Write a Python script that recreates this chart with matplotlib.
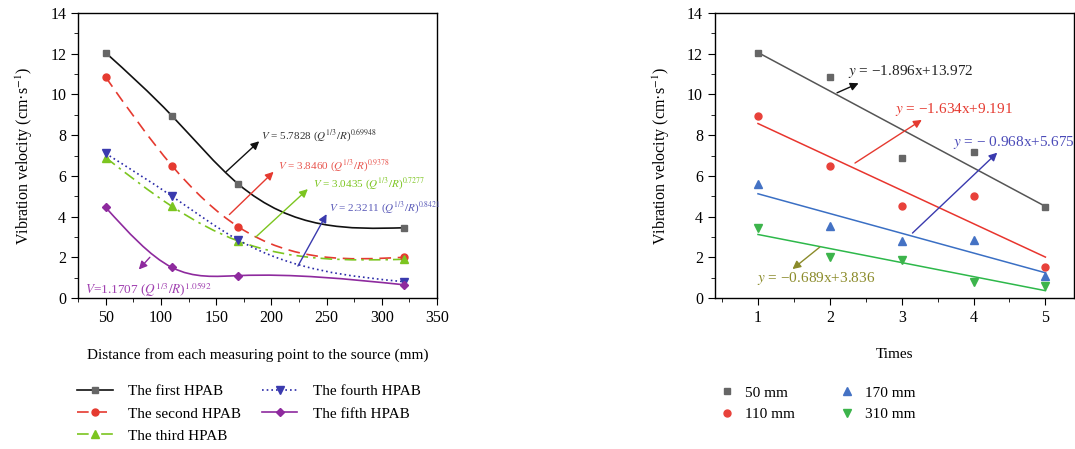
import matplotlib
matplotlib.use("Agg")
import matplotlib.pyplot as plt
import numpy as np
from matplotlib.path import Path
from matplotlib.patches import PathPatch
from matplotlib.lines import Line2D
from matplotlib.ticker import MultipleLocator

plt.rcParams['font.family'] = ['Liberation Serif', 'DejaVu Serif']
plt.rcParams['mathtext.fontset'] = 'stix'

# left panel data
distance = [50, 110, 170, 320]
hpab_names = ['The first HPAB', 'The second HPAB', 'The third HPAB',
              'The fourth HPAB', 'The fifth HPAB']
hpab1 = [12.05, 8.95, 5.6, 3.45]
hpab2 = [10.85, 6.5, 3.5, 2.0]
hpab3 = [6.9, 4.5, 2.8, 1.9]
hpab4 = [7.1, 5.0, 2.85, 0.8]
hpab5 = [4.45, 1.5, 1.1, 0.65]

# right panel data
times = [1, 2, 3, 4, 5]
group_names = ['50 mm', '110 mm', '170 mm', '310 mm']
v50 = [12.05, 10.85, 6.9, 7.15, 4.45]
v110 = [8.95, 6.5, 4.5, 5.0, 1.5]
v170 = [5.6, 3.55, 2.8, 2.85, 1.1]
v310 = [3.45, 2.0, 1.85, 0.8, 0.6]


def spline_path(x, y):
    # natural cubic spline drawn as bezier segments through the points
    x = np.asarray(x, float)
    y = np.asarray(y, float)
    n = len(x)
    h = np.diff(x)
    A = np.zeros((n, n))
    b = np.zeros(n)
    A[0, 0] = A[-1, -1] = 1
    for i in range(1, n - 1):
        A[i, i - 1] = h[i - 1]
        A[i, i] = 2 * (h[i - 1] + h[i])
        A[i, i + 1] = h[i]
        b[i] = 6 * ((y[i + 1] - y[i]) / h[i] - (y[i] - y[i - 1]) / h[i - 1])
    M = np.linalg.solve(A, b)
    d = np.zeros(n)
    for i in range(n - 1):
        d[i] = (y[i + 1] - y[i]) / h[i] - h[i] * (2 * M[i] + M[i + 1]) / 6
    d[-1] = (y[-1] - y[-2]) / h[-1] + h[-1] * (M[-2] + 2 * M[-1]) / 6
    verts = [(x[0], y[0])]
    codes = [Path.MOVETO]
    for i in range(n - 1):
        verts += [(x[i] + h[i] / 3, y[i] + d[i] * h[i] / 3),
                  (x[i + 1] - h[i] / 3, y[i + 1] - d[i + 1] * h[i] / 3),
                  (x[i + 1], y[i + 1])]
        codes += [Path.CURVE4] * 3
    return Path(verts, codes)


fig = plt.figure(figsize=(10.75, 4.49), dpi=100)
ax1 = fig.add_axes([0.0726, 0.3363, 0.334, 0.6347])
ax2 = fig.add_axes([0.665, 0.3363, 0.3342, 0.6347])

styles = [
    (hpab1, '#111111', '#666666', 's', '-', 4.5),
    (hpab2, '#e53a30', '#e53a30', 'o', (0, (7, 4)), 5),
    (hpab3, '#7cc520', '#7cc520', '^', (0, (7, 3, 1.5, 3)), 6),
    (hpab4, '#2a2aa8', '#3a3aae', 'v', (0, (1, 1.8)), 6),
    (hpab5, '#8e2a9e', '#8e2a9e', 'D', '-', 4),
]
handles = []
for (vals, lc, mc, mk, ls, ms), name in zip(styles, hpab_names):
    ax1.add_patch(PathPatch(spline_path(distance, vals), fill=False,
                            edgecolor=lc, linestyle=ls, lw=1.2))
    ax1.plot(distance, vals, linestyle='none', marker=mk, color=mc,
             markersize=ms, zorder=3)
    handles.append(Line2D([], [], color=lc, linestyle=ls, lw=1.2,
                          marker=mk, markerfacecolor=mc, markeredgecolor=mc,
                          markersize=ms))

ax1.set_xlim(25, 350)
ax1.set_ylim(0, 14)
ax1.xaxis.set_major_locator(MultipleLocator(50))
ax1.xaxis.set_minor_locator(MultipleLocator(25))
ax1.yaxis.set_major_locator(MultipleLocator(2))
ax1.yaxis.set_minor_locator(MultipleLocator(1))
ax1.set_ylabel('Vibration velocity (cm·s$^{-1}$)', fontsize=11.5, labelpad=11)
ax1.set_xlabel('Distance from each measuring point to the source (mm)',
               fontsize=11, labelpad=16)

arrow_specs = [
    ((159, 6.2), (189, 7.7), '#111111', (191, 7.95),
     r'$V$ = 5.7828 ($Q^{1/3}/R$)$^{0.69948}$', '#333333', 8),
    ((162, 4.1), (202, 6.2), '#e53a30', (206, 6.55),
     r'$V$ = 3.8460 ($Q^{1/3}/R$)$^{0.9378}$', '#e8554e', 8),
    ((186, 3.0), (233, 5.35), '#7cc520', (238, 5.65),
     r'$V$ = 3.0435 ($Q^{1/3}/R$)$^{0.7277}$', '#7cc520', 8),
    ((224, 1.57), (250, 4.12), '#3a3aae', (252, 4.47),
     r'$V$ = 2.3211 ($Q^{1/3}/R$)$^{0.8421}$', '#5a5ab8', 8),
    ((90, 2.0), (80, 1.4), '#8e2a9e', (31, 0.42),
     r'$V$=1.1707 ($Q^{1/3}/R$)$^{1.0592}$', '#a040b0', 9.5),
]
for start, end, ac, tpos, txt, tc, fs in arrow_specs:
    ax1.annotate('', xy=end, xytext=start,
                 arrowprops=dict(arrowstyle='-|>', color=ac, lw=1.0,
                                 mutation_scale=12, shrinkA=0, shrinkB=0))
    ax1.text(tpos[0], tpos[1], txt, color=tc, fontsize=fs, va='center')

fig.legend(handles=handles, labels=hpab_names, loc='upper left',
           bbox_to_anchor=(0.072, 0.143), ncol=2, frameon=False, fontsize=11,
           handlelength=2.3, handletextpad=1.0, columnspacing=1.4,
           labelspacing=0.55, borderaxespad=0, borderpad=0)

# right panel
groups = [
    (v50, '#666666', '#555555', 's', 4.5),
    (v110, '#e8413a', '#e8352e', 'o', 5),
    (v170, '#4472c4', '#3a6fc4', '^', 5.5),
    (v310, '#3cb44b', '#2db84a', 'v', 5.5),
]
t = np.array(times, float)
rhandles = []
for (vals, mc, lc, mk, ms), name in zip(groups, group_names):
    ax2.plot(times, vals, linestyle='none', marker=mk, color=mc,
             markersize=ms, zorder=3)
    k, c = np.polyfit(t, vals, 1)
    ax2.plot(t[[0, -1]], k * t[[0, -1]] + c, color=lc, lw=1.1)
    rhandles.append(Line2D([], [], linestyle='none', marker=mk, color=mc,
                           markersize=ms))

ax2.set_xlim(0.4, 5.4)
ax2.set_ylim(0, 14)
ax2.xaxis.set_major_locator(MultipleLocator(1))
ax2.xaxis.set_minor_locator(MultipleLocator(0.5))
ax2.yaxis.set_major_locator(MultipleLocator(2))
ax2.yaxis.set_minor_locator(MultipleLocator(1))
ax2.set_ylabel('Vibration velocity (cm·s$^{-1}$)', fontsize=11.5, labelpad=11)
ax2.set_xlabel('Times', fontsize=11, labelpad=16)

fit_specs = [
    ((2.1, 10.08), (2.4, 10.55), '#111111', (2.25, 11.15),
     r'$y$ = −1.896x+13.972', '#222222'),
    ((2.35, 6.63), (3.28, 8.75), '#e53a30', (2.9, 9.28),
     r'$y$ = −1.634x+9.191', '#e53a30'),
    ((3.15, 3.19), (4.33, 7.14), '#3a3aae', (3.71, 7.66),
     r'$y$ = − 0.968x+5.675', '#4a4ab8'),
    ((1.86, 2.5), (1.48, 1.42), '#8b8b2a', (0.99, 0.98),
     r'$y$ = −0.689x+3.836', '#8b8b2a'),
]
for start, end, ac, tpos, txt, tc in fit_specs:
    ax2.annotate('', xy=end, xytext=start,
                 arrowprops=dict(arrowstyle='-|>', color=ac, lw=1.0,
                                 mutation_scale=12, shrinkA=0, shrinkB=0))
    ax2.text(tpos[0], tpos[1], txt, color=tc, fontsize=11, va='center')

fig.legend(handles=rhandles, labels=group_names, loc='upper left',
           bbox_to_anchor=(0.669, 0.14), ncol=2, frameon=False, fontsize=11,
           handlelength=1.0, handletextpad=0.7, columnspacing=2.9,
           labelspacing=0.5, borderaxespad=0, borderpad=0)

for ax in (ax1, ax2):
    ax.tick_params(which='both', direction='out', top=False, right=False,
                   labelsize=11.5)
    ax.tick_params(which='major', length=5)
    ax.tick_params(which='minor', length=3)
    for s in ax.spines.values():
        s.set_linewidth(1.0)

fig.savefig('out.png', dpi=100)
